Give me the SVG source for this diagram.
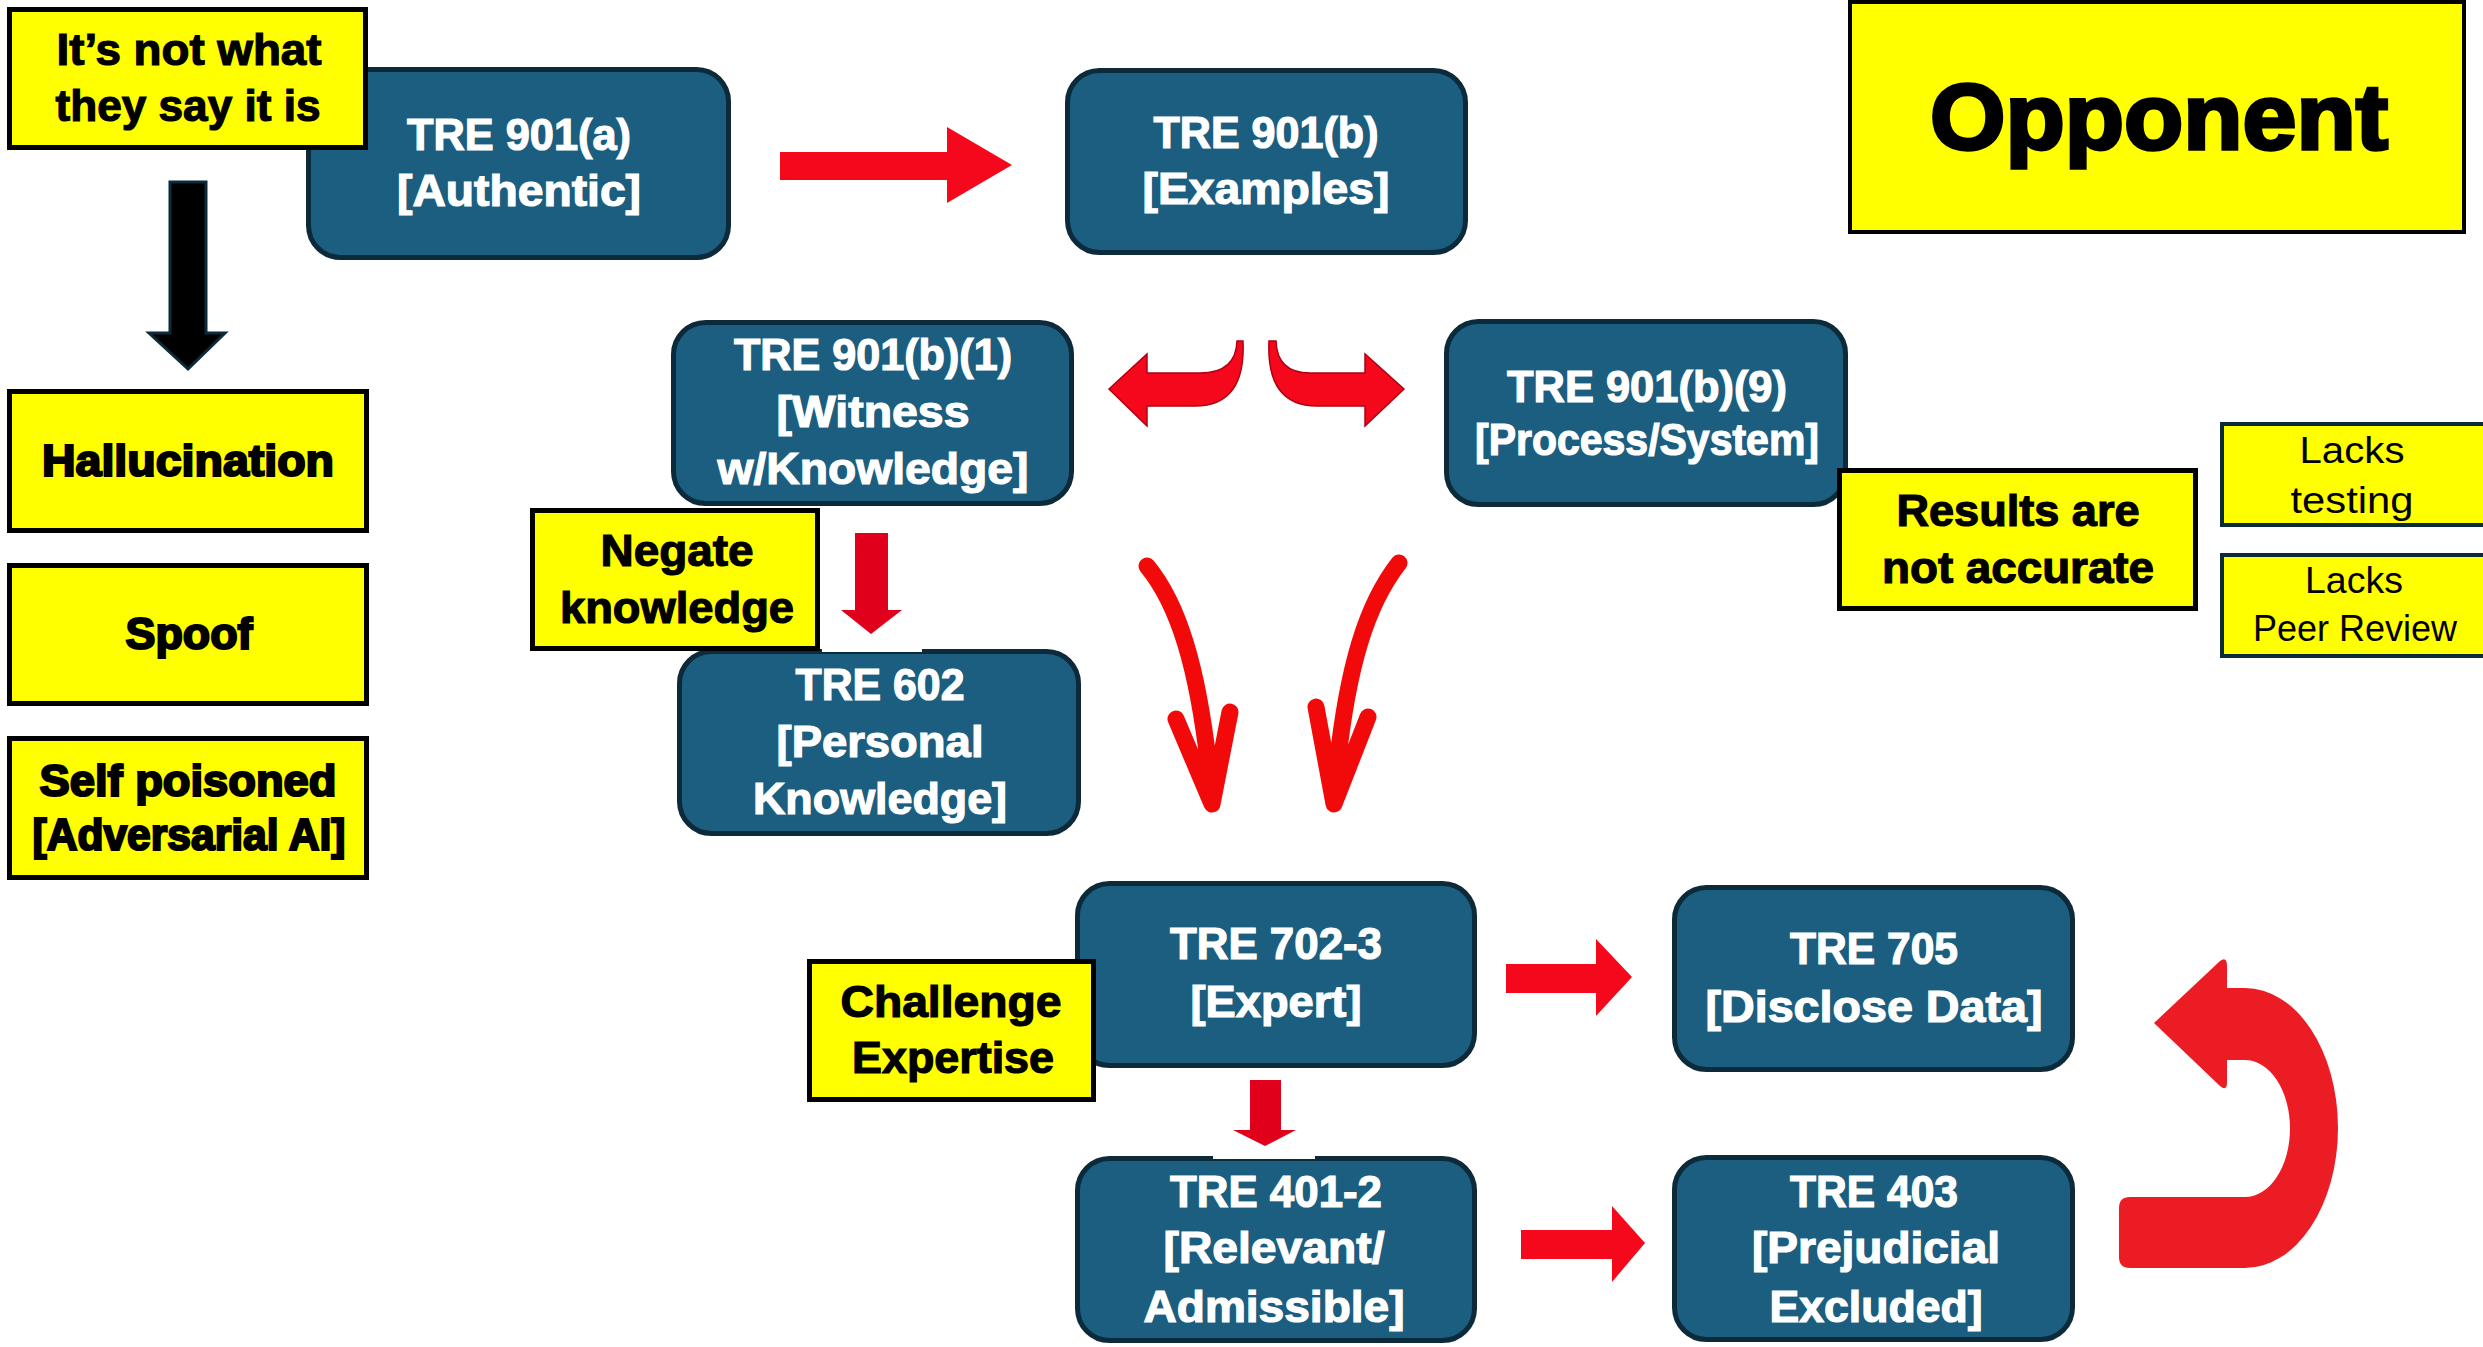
<svg xmlns="http://www.w3.org/2000/svg" width="2483" height="1347" viewBox="0 0 2483 1347">
<style>
.blue{fill:#1b5e7f;stroke:#0c2a3a;stroke-width:5}
.yel{fill:#ffff00;stroke:#000;stroke-width:5}
.yeln{fill:#ffff00;stroke:#0c2a3a;stroke-width:4}
.wt{font-family:"Liberation Sans",Arial,sans-serif;font-weight:bold;font-size:44px;fill:#fff;stroke:#fff;stroke-width:1.2;text-anchor:middle}
.bt{font-family:"Liberation Sans",Arial,sans-serif;font-weight:bold;font-size:44px;fill:#000;stroke:#000;stroke-width:1.2;text-anchor:middle}
.hv{stroke-width:2.2}
.lt{font-family:"Liberation Sans",Arial,sans-serif;font-weight:normal;font-size:37px;fill:#000;text-anchor:middle}
.red{fill:#f5081c}
.dred{fill:#e0001b}
.curve{fill:none;stroke:#f20a0a;stroke-width:17;stroke-linecap:round;stroke-linejoin:round}
</style>
<rect width="2483" height="1347" fill="#fff"/>
<g id="nodes">
<g id="tre901a"><rect class="blue" x="308.5" y="69.5" width="420" height="188" rx="32"/>
<text class="wt" x="519" y="150" textLength="224" lengthAdjust="spacingAndGlyphs">TRE 901(a)</text>
<text class="wt" x="519" y="206" textLength="244" lengthAdjust="spacingAndGlyphs">[Authentic]</text></g>
<g id="tre901b"><rect class="blue" x="1067.5" y="70.5" width="398" height="182" rx="32"/>
<text class="wt" x="1266" y="148" textLength="225" lengthAdjust="spacingAndGlyphs">TRE 901(b)</text>
<text class="wt" x="1266" y="204" textLength="247" lengthAdjust="spacingAndGlyphs">[Examples]</text></g>
<g id="tre901b1"><rect class="blue" x="673.5" y="322.5" width="398" height="181" rx="32"/>
<text class="wt" x="873" y="370" textLength="278" lengthAdjust="spacingAndGlyphs">TRE 901(b)(1)</text>
<text class="wt" x="873" y="427" textLength="193" lengthAdjust="spacingAndGlyphs">[Witness</text>
<text class="wt" x="873" y="484" textLength="311" lengthAdjust="spacingAndGlyphs">w/Knowledge]</text></g>
<g id="tre901b9"><rect class="blue" x="1446.5" y="321.5" width="399" height="183" rx="32"/>
<text class="wt" x="1647" y="402" textLength="280" lengthAdjust="spacingAndGlyphs">TRE 901(b)(9)</text>
<text class="wt" x="1647" y="455" textLength="344" lengthAdjust="spacingAndGlyphs">[Process/System]</text></g>
<g id="tre602"><rect class="blue" x="679.5" y="651.5" width="399" height="182" rx="32"/>
<text class="wt" x="880" y="700" textLength="169" lengthAdjust="spacingAndGlyphs">TRE 602</text>
<text class="wt" x="880" y="757" textLength="207" lengthAdjust="spacingAndGlyphs">[Personal</text>
<text class="wt" x="880" y="814" textLength="254" lengthAdjust="spacingAndGlyphs">Knowledge]</text></g>
<g id="tre7023"><rect class="blue" x="1077.5" y="883.5" width="397" height="182" rx="32"/>
<text class="wt" x="1276" y="959" textLength="212" lengthAdjust="spacingAndGlyphs">TRE 702-3</text>
<text class="wt" x="1276" y="1017" textLength="171" lengthAdjust="spacingAndGlyphs">[Expert]</text></g>
<g id="tre705"><rect class="blue" x="1674.5" y="887.5" width="398" height="182" rx="32"/>
<text class="wt" x="1874" y="964" textLength="168" lengthAdjust="spacingAndGlyphs">TRE 705</text>
<text class="wt" x="1874" y="1022" textLength="337" lengthAdjust="spacingAndGlyphs">[Disclose Data]</text></g>
<g id="tre4012"><rect class="blue" x="1077.5" y="1158.5" width="397" height="182" rx="32"/>
<text class="wt" x="1276" y="1207" textLength="212" lengthAdjust="spacingAndGlyphs">TRE 401-2</text>
<text class="wt" x="1274" y="1263" textLength="221" lengthAdjust="spacingAndGlyphs">[Relevant/</text>
<text class="wt" x="1274" y="1322" textLength="261" lengthAdjust="spacingAndGlyphs">Admissible]</text></g>
<g id="tre403"><rect class="blue" x="1674.5" y="1157.5" width="398" height="182" rx="32"/>
<text class="wt" x="1874" y="1207" textLength="168" lengthAdjust="spacingAndGlyphs">TRE 403</text>
<text class="wt" x="1876" y="1263" textLength="248" lengthAdjust="spacingAndGlyphs">[Prejudicial</text>
<text class="wt" x="1876" y="1322" textLength="213" lengthAdjust="spacingAndGlyphs">Excluded]</text></g>

<g id="notwhat"><rect class="yel" x="9.5" y="9.5" width="356" height="138"/>
<text class="bt" x="189" y="65" textLength="265" lengthAdjust="spacingAndGlyphs">It’s not what</text>
<text class="bt" x="188" y="121" textLength="265" lengthAdjust="spacingAndGlyphs">they say it is</text></g>
<g id="hallucination"><rect class="yel" x="9.5" y="391.5" width="357" height="139"/>
<text class="bt hv" x="188" y="476" textLength="292" lengthAdjust="spacingAndGlyphs">Hallucination</text></g>
<g id="spoof"><rect class="yel" x="9.5" y="565.5" width="357" height="138"/>
<text class="bt hv" x="189" y="649" textLength="127" lengthAdjust="spacingAndGlyphs">Spoof</text></g>
<g id="selfpoisoned"><rect class="yel" x="9.5" y="738.5" width="357" height="139"/>
<text class="bt hv" x="188" y="796" textLength="297" lengthAdjust="spacingAndGlyphs">Self poisoned</text>
<text class="bt hv" x="189" y="850" textLength="313" lengthAdjust="spacingAndGlyphs">[Adversarial AI]</text></g>
<g id="negate"><rect class="yel" x="532.5" y="510.5" width="285" height="138"/>
<text class="bt" x="677" y="566" textLength="153" lengthAdjust="spacingAndGlyphs">Negate</text>
<text class="bt" x="677" y="623" textLength="234" lengthAdjust="spacingAndGlyphs">knowledge</text></g>
<g id="results"><rect class="yel" x="1839.5" y="470.5" width="356" height="138"/>
<text class="bt" x="2018" y="526" textLength="243" lengthAdjust="spacingAndGlyphs">Results are</text>
<text class="bt" x="2018" y="583" textLength="272" lengthAdjust="spacingAndGlyphs">not accurate</text></g>
<g id="challenge"><rect class="yel" x="809.5" y="961.5" width="284" height="138"/>
<text class="bt" x="951" y="1017" textLength="221" lengthAdjust="spacingAndGlyphs">Challenge</text>
<text class="bt" x="953" y="1073" textLength="202" lengthAdjust="spacingAndGlyphs">Expertise</text></g>
<g id="opponent"><rect class="yel" x="1850" y="2" width="614" height="230" style="stroke-width:4"/>
<text class="bt" x="2159" y="149" style="font-size:93px;stroke-width:3.5" textLength="458" lengthAdjust="spacingAndGlyphs">Opponent</text></g>
<g id="lackstesting"><rect class="yeln" x="2222" y="424" width="264" height="101"/>
<text class="lt" x="2352" y="463" textLength="105" lengthAdjust="spacingAndGlyphs">Lacks</text>
<text class="lt" x="2352" y="513" textLength="123" lengthAdjust="spacingAndGlyphs">testing</text></g>
<g id="lackspeer"><rect class="yeln" x="2222" y="555" width="264" height="101"/>
<text class="lt" x="2354" y="593" textLength="98" lengthAdjust="spacingAndGlyphs">Lacks</text>
<text class="lt" x="2355" y="641" textLength="204" lengthAdjust="spacingAndGlyphs">Peer Review</text></g>
</g>

<g id="connectors">
<path d="M170,182 L206,182 L206,333 L225,333 L188,369 L149,333 L170,333 Z" fill="#000" stroke="#0c2a3a" stroke-width="3"/>
<path class="red" d="M780,152 L947,152 L947,127 L1012,165 L947,203 L947,180 L780,180 Z"/>
<path class="red" d="M1109,389 L1147,354 L1147,373 L1200,373 Q1236,373 1237,341 L1243,341 Q1246,406 1195,406 L1147,406 L1147,426 Z" stroke="#b00010" stroke-width="1.5"/>
<path class="red" d="M1404,389 L1365,354 L1365,373 L1310,373 Q1277,373 1276,341 L1269,341 Q1266,406 1317,406 L1365,406 L1365,426 Z" stroke="#b00010" stroke-width="1.5"/>
<path class="curve" d="M1147,566 C1175,600 1200,660 1212,800 M1176,719 L1212,804 L1230,712"/>
<path class="curve" d="M1399,563 C1370,600 1345,660 1334,800 M1316,707 L1334,804 L1368,717"/>
<rect x="822" y="645" width="100" height="7" fill="#fff"/>
<path class="dred" d="M855,533 L888,533 L888,610 L902,610 L871,634 L841,610 L855,610 Z"/>
<rect x="1213" y="1153" width="102" height="6" fill="#fff"/>
<path class="dred" d="M1250,1080 L1281,1080 L1281,1130 L1296,1130 L1265,1146 L1233,1130 L1250,1130 Z"/>
<path class="red" d="M1506,964 L1596,964 L1596,939 L1632,977 L1596,1016 L1596,993 L1506,993 Z"/>
<path class="red" d="M1521,1230 L1612,1230 L1612,1206 L1645,1243 L1612,1282 L1612,1259 L1521,1259 Z"/>
<path fill="#ec1c24" d="M2154,1023 L2220,961 Q2227,956 2227,966 L2227,988 L2245,988 A93,140 0 0 1 2245,1268 L2130,1268 Q2119,1268 2119,1257 L2119,1208 Q2119,1197 2130,1197 L2245,1197 A45,68.5 0 0 0 2245,1060 L2227,1060 L2227,1082 Q2227,1092 2220,1086 Z"/>
</g>
</svg>
